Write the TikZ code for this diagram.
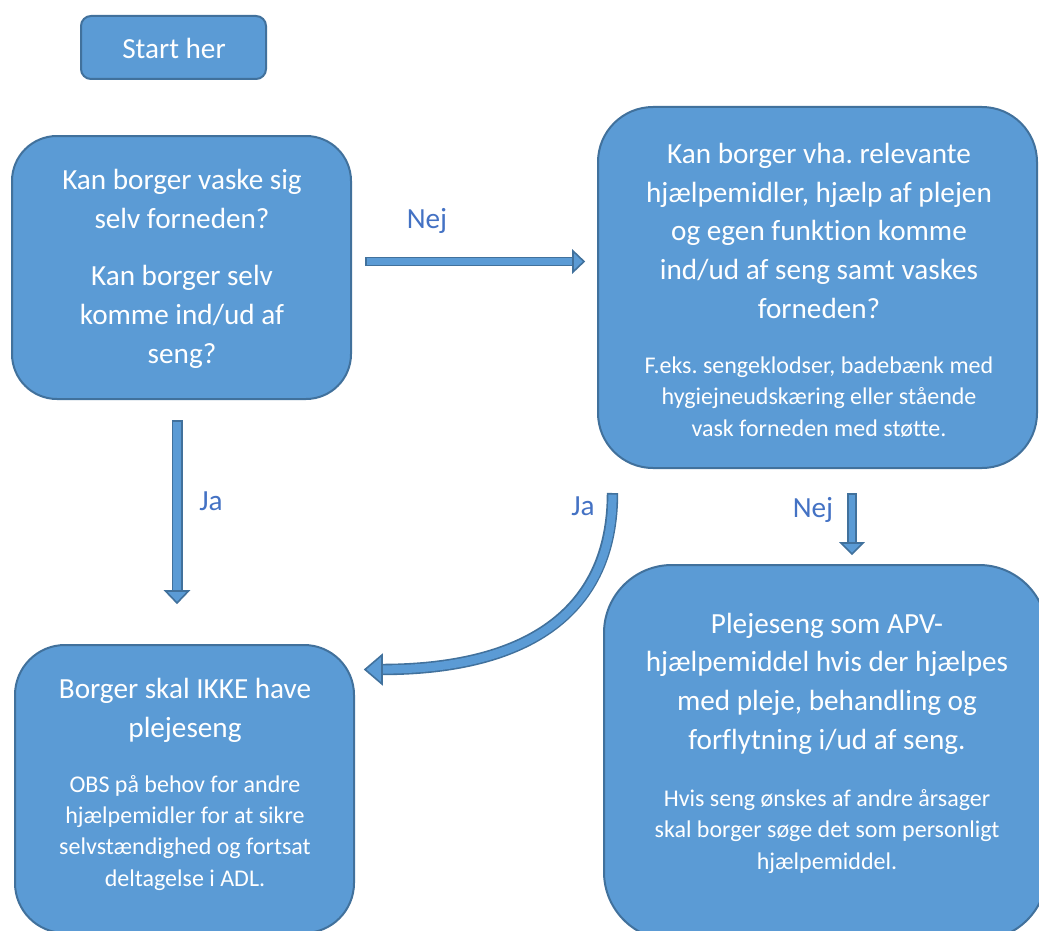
\documentclass[tikz,border=0pt]{standalone}
\usepackage{fontspec}
\setmainfont{Carlito}[Ligatures=NoCommon]
\frenchspacing
\definecolor{boxfill}{HTML}{5B9BD5}
\definecolor{boxline}{HTML}{41719C}
\definecolor{labelblue}{HTML}{4472C4}
\begin{document}
\begin{tikzpicture}[x=0.75pt,y=-0.75pt,
  box/.style={draw=boxline, line width=1.5pt, fill=boxfill, inner sep=0pt},
  maintxt/.style={text=white, align=center, anchor=base, inner sep=0pt,
    font=\frenchspacing\fontsize{21.9}{28.9}\selectfont},
  smalltxt/.style={text=white, align=center, anchor=base, inner sep=0pt,
    font=\frenchspacing\fontsize{18}{23.3}\selectfont},
  lbl/.style={text=labelblue, anchor=base, inner sep=0pt,
    font=\fontsize{21.9}{28.9}\selectfont},
  outerstroke/.style={draw=boxline, line width=#1},
  innerstroke/.style={draw=boxfill, line width=#1, shorten <=1.2pt},
  arrowhead/.style={fill=boxfill, draw=boxline, line width=1.2pt, line join=miter}
]
\clip (0,0) rectangle (1039,931);
\fill[white] (0,0) rectangle (1039,931);

% boxes
\node[box, minimum width=138.75pt, minimum height=47.25pt, rounded corners=7.5pt] (start) at (173.5,47.5) {};
\node[box, minimum width=254.25pt, minimum height=197.25pt, rounded corners=33.75pt] (q1) at (181.5,267.5) {};
\node[box, minimum width=329.25pt, minimum height=270.75pt, rounded corners=41.25pt] (q2) at (817.5,287.5) {};
\node[box, minimum width=254.25pt, minimum height=216pt, rounded corners=37.5pt] (no) at (184.5,789) {};
\node[box, minimum width=332.25pt, minimum height=281.25pt, rounded corners=51pt] (yes) at (825.5,752.5) {};

% texts (anchor = baseline of last line)
\node[maintxt] (tstart) at (174,59) {Start her};
\node[maintxt] (tq1a) at (182,228) {Kan borger vaske sig\\selv forneden?};
\node[maintxt] (tq1b) at (182,363) {Kan borger selv\\komme ind/ud af\\seng?};
\node[maintxt] (tq2) at (819,318) {Kan borger vha. relevante\\hjælpemidler, hjælp af plejen\\og egen funktion komme\\ind/ud af seng samt vaskes\\forneden?};
\node[smalltxt] (sq2) at (819,436) {F.eks. sengeklodser, badebænk med\\hygiejneudskæring eller stående\\vask forneden med støtte.};
\node[maintxt] (tno) at (185,737) {Borger skal IKKE have\\plejeseng};
\node[smalltxt] (sno) at (185,886) {OBS på behov for andre\\hjælpemidler for at sikre\\selvstændighed og fortsat\\deltagelse i ADL.};
\node[maintxt] (tyes) at (827,749) {Plejeseng som APV-\\hjælpemiddel hvis der hjælpes\\med pleje, behandling og\\forflytning i/ud af seng.};
\node[smalltxt] (syes) at (827,869) {Hvis seng ønskes af andre årsager\\skal borger søge det som personligt\\hjælpemiddel.};

% arrow coordinates
\coordinate (a1s) at (365,261.5);
\coordinate (a1b) at (574,261.5);
\coordinate (a1e) at (584,261.5);
\coordinate (a2s) at (177,420);
\coordinate (a2b) at (177,592);
\coordinate (a2e) at (177,603);
\coordinate (a3s) at (852,493);
\coordinate (a3b) at (852,544);
\coordinate (a3e) at (852,554);
\coordinate (a4s) at (612.5,493);
\coordinate (a4b) at (381,669.5);
\coordinate (a4e) at (365,669.5);

% Nej (horizontal)
\draw[outerstroke=7.2pt] (a1s) -- (a1b);
\draw[innerstroke=4.8pt] (a1s) -- (a1b);
\draw[arrowhead] (a1e) -- ++(-11,-10.5) -- ++(0,21) -- cycle;
% Ja (left vertical)
\draw[outerstroke=8.25pt] (a2s) -- (a2b);
\draw[innerstroke=5.85pt] (a2s) -- (a2b);
\draw[arrowhead] (a2e) -- ++(-11.5,-12) -- ++(23,0) -- cycle;
% Nej (right vertical)
\draw[outerstroke=7.5pt] (a3s) -- (a3b);
\draw[innerstroke=5.1pt] (a3s) -- (a3b);
\draw[arrowhead] (a3e) -- ++(-11,-11) -- ++(22,0) -- cycle;
% Ja (curved)
\draw[outerstroke=8.6pt] (a4s) .. controls (612.5,610) and (530,669.5) .. (a4b);
\draw[innerstroke=6.2pt] (a4s) .. controls (612.5,610) and (530,669.5) .. (a4b);
\draw[arrowhead] (a4e) -- ++(17,-14.5) -- ++(0,29) -- cycle;

% labels
\node[lbl] (l1) at (427,228) {Nej};
\node[lbl] (l2) at (211,510) {Ja};
\node[lbl] (l3) at (583,515) {Ja};
\node[lbl] (l4) at (813,517) {Nej};
\end{tikzpicture}
\end{document}
